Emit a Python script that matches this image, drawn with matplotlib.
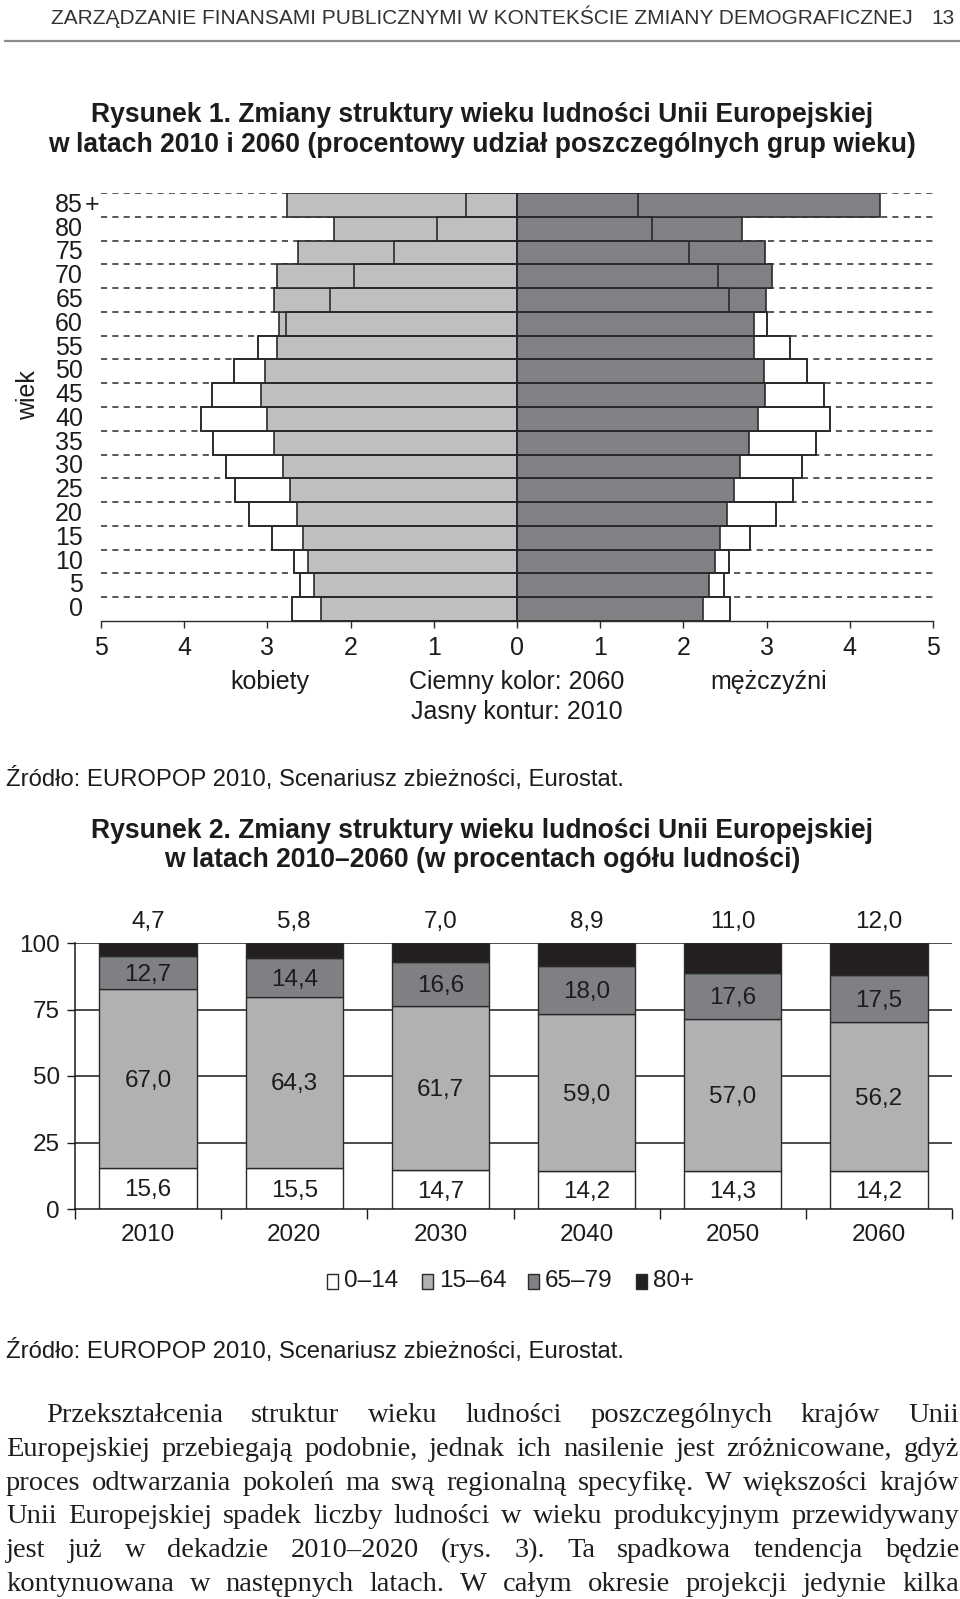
import matplotlib
matplotlib.use('Agg')
import matplotlib.pyplot as plt
from matplotlib.patches import Rectangle
from matplotlib.lines import Line2D
import numpy as np

W, H = 960, 1599

# Rysunek 1 - piramida wieku (udzial %, od najmlodszych do najstarszych)
age_labels = ['0', '5', '10', '15', '20', '25', '30', '35', '40',
              '45', '50', '55', '60', '65', '70', '75', '80', '85']
women_2010 = [2.70, 2.61, 2.68, 2.94, 3.22, 3.39, 3.50, 3.65, 3.80,
              3.67, 3.40, 3.11, 2.78, 2.25, 1.96, 1.48, 0.96, 0.61]
women_2060 = [2.36, 2.44, 2.51, 2.57, 2.65, 2.73, 2.81, 2.92, 3.01,
              3.08, 3.03, 2.89, 2.86, 2.92, 2.89, 2.63, 2.20, 2.77]
men_2010 = [2.56, 2.49, 2.55, 2.80, 3.11, 3.32, 3.42, 3.59, 3.76,
            3.69, 3.49, 3.28, 3.00, 2.55, 2.42, 2.07, 1.62, 1.46]
men_2060 = [2.24, 2.31, 2.38, 2.44, 2.53, 2.61, 2.68, 2.79, 2.90,
            2.98, 2.97, 2.85, 2.85, 2.99, 3.07, 2.98, 2.70, 4.36]
pyr_ticks = [-5, -4, -3, -2, -1, 0, 1, 2, 3, 4, 5]

# Rysunek 2 - struktura wieku 2010-2060
years = ['2010', '2020', '2030', '2040', '2050', '2060']
share_0_14 = [15.6, 15.5, 14.7, 14.2, 14.3, 14.2]
share_15_64 = [67.0, 64.3, 61.7, 59.0, 57.0, 56.2]
share_65_79 = [12.7, 14.4, 16.6, 18.0, 17.6, 17.5]
share_80 = [4.7, 5.8, 7.0, 8.9, 11.0, 12.0]
group_names = ['0–14', '15–64', '65–79', '80+']

body_lines = [
    'Przekształcenia struktur wieku ludności poszczególnych krajów Unii',
    'Europejskiej przebiegają podobnie, jednak ich nasilenie jest zróżnicowane, gdyż',
    'proces odtwarzania pokoleń ma swą regionalną specyfikę. W większości krajów',
    'Unii Europejskiej spadek liczby ludności w wieku produkcyjnym przewidywany',
    'jest już w dekadzie 2010–2020 (rys. 3). Ta spadkowa tendencja będzie',
    'kontynuowana w następnych latach. W całym okresie projekcji jedynie kilka',
]

plt.rcParams['font.family'] = ['Liberation Sans', 'DejaVu Sans']
TXT = '#1c1c1c'
FS = 17.5      # opisy wykresow
FS_P = 18      # piramida
FS_T = 19.1    # tytuly
FS_SRC = 17.2  # zrodlo


def fx(x):
    return x / W


def fy(y):
    return 1 - y / H


def rect(x0, y0, x1, y1):
    return [x0 / W, 1 - y1 / H, (x1 - x0) / W, (y1 - y0) / H]


fig = plt.figure(figsize=(W / 100, H / 100), dpi=100)
fig.patch.set_facecolor('white')

# naglowek strony
fig.text(fx(51), fy(24), 'ZARZĄDZANIE FINANSAMI PUBLICZNYMI W KONTEKŚCIE ZMIANY DEMOGRAFICZNEJ',
         fontsize=15, color='#333333', va='baseline', ha='left')
fig.text(fx(955), fy(24), '13', fontsize=15, color='#333333', va='baseline', ha='right')
fig.add_artist(Line2D([fx(5), 1.0], [fy(41), fy(41)], color='#8c8c8c', lw=1.6))

# tytul 1
fig.text(fx(482), fy(122), 'Rysunek 1. Zmiany struktury wieku ludności Unii Europejskiej',
         fontsize=FS_T, fontweight='bold', color=TXT, ha='center', va='baseline')
fig.text(fx(482), fy(152), 'w latach 2010 i 2060 (procentowy udział poszczególnych grup wieku)',
         fontsize=FS_T, fontweight='bold', color=TXT, ha='center', va='baseline')

# piramida
ax1 = fig.add_axes(rect(101, 193, 933, 621))
pos = np.arange(len(age_labels))
w10 = -np.array(women_2010)
w60 = -np.array(women_2060)

ax1.hlines(pos + 0.5, -5, 5, colors='#2a2a2a', linewidth=1.1,
           linestyles=(0, (4, 3.4)), zorder=1)
ax1.barh(pos, w10, height=1.0, color='white', edgecolor='#2a2a2a', linewidth=1.2, zorder=2)
ax1.barh(pos, men_2010, height=1.0, color='white', edgecolor='#2a2a2a', linewidth=1.2, zorder=2)
ax1.barh(pos, w60, height=1.0, color='#bebfc1', edgecolor='#2a2a2a', linewidth=1.2, zorder=3)
ax1.barh(pos, men_2060, height=1.0, color='#808184', edgecolor='#2a2a2a', linewidth=1.2, zorder=3)
ax1.barh(pos, w10, height=1.0, fill=False, edgecolor='#2a2a2a', linewidth=1.2, zorder=4)
ax1.barh(pos, men_2010, height=1.0, fill=False, edgecolor='#2a2a2a', linewidth=1.2, zorder=4)

ax1.set_xlim(-5, 5)
ax1.set_ylim(-0.5, len(age_labels) - 0.5)
ax1.set_xticks(pyr_ticks)
ax1.set_xticklabels([str(abs(t)) for t in pyr_ticks], fontsize=FS_P, color=TXT)
ax1.tick_params(axis='x', length=5, width=1, color='#2a2a2a', pad=5.5)
ax1.set_yticks([])
for s in ['top', 'right', 'left']:
    ax1.spines[s].set_visible(False)
ax1.spines['bottom'].set_linewidth(1)
ax1.spines['bottom'].set_color('#2a2a2a')

ytr = ax1.get_yaxis_transform()
for i, lab in enumerate(age_labels):
    ax1.text(-0.0216, i, lab, transform=ytr, ha='right', va='center',
             fontsize=FS_P, color=TXT, clip_on=False)
ax1.text(-0.0192, len(age_labels) - 1, '+', transform=ytr, ha='left', va='center',
         fontsize=FS_P, color=TXT, clip_on=False)

fig.text(fx(28), fy(395), 'wiek', rotation=90, ha='center', va='center', fontsize=FS_P, color=TXT)
fig.text(fx(270), fy(689), 'kobiety', ha='center', va='baseline', fontsize=FS_P, color=TXT)
fig.text(fx(769), fy(689), 'mężczyźni', ha='center', va='baseline', fontsize=FS_P, color=TXT)
fig.text(fx(517), fy(689), 'Ciemny kolor: 2060', ha='center', va='baseline', fontsize=FS_P, color=TXT)
fig.text(fx(517), fy(719), 'Jasny kontur: 2010', ha='center', va='baseline', fontsize=FS_P, color=TXT)

src = 'Źródło: EUROPOP 2010, Scenariusz zbieżności, Eurostat.'
fig.text(fx(6), fy(786), src, ha='left', va='baseline', fontsize=FS_SRC, color=TXT)

# tytul 2
fig.text(fx(482), fy(838), 'Rysunek 2. Zmiany struktury wieku ludności Unii Europejskiej',
         fontsize=FS_T, fontweight='bold', color=TXT, ha='center', va='baseline')
fig.text(fx(482), fy(867), 'w latach 2010–2060 (w procentach ogółu ludności)',
         fontsize=FS_T, fontweight='bold', color=TXT, ha='center', va='baseline')

# wykres slupkowy
ax2 = fig.add_axes(rect(75, 943, 952, 1209))
x = np.arange(len(years))
series = [share_0_14, share_15_64, share_65_79, share_80]
colors = ['white', '#b0b1b3', '#7f8083', '#231f20']
for v in [25, 50, 75, 100]:
    ax2.axhline(v, color='#1a1a1a', lw=1.1, zorder=1)
bottom = np.zeros(len(years))
for k, (vals, col) in enumerate(zip(series, colors)):
    vals = np.array(vals)
    ax2.bar(x, vals, width=0.667, bottom=bottom, color=col, edgecolor='#2a2a2a',
            linewidth=1.0, zorder=2)
    for xi, b, v in zip(x, bottom, vals):
        lab = f'{v:.1f}'.replace('.', ',')
        if k < 3:
            ax2.text(xi, b + v / 2 - 0.8, lab, ha='center', va='center',
                     fontsize=FS, color=TXT, zorder=3)
        else:
            ax2.text(xi, 108, lab, ha='center', va='center', fontsize=FS,
                     color=TXT, clip_on=False)
    bottom = bottom + vals

ax2.set_xlim(-0.5, len(years) - 0.5)
ax2.set_ylim(0, 100)
ax2.set_yticks([0, 25, 50, 75, 100])
ax2.set_yticklabels(['0', '25', '50', '75', '100'], fontsize=FS, color=TXT)
ax2.tick_params(axis='y', length=5.8, width=1, color='#1a1a1a', pad=5)
ax2.set_xticks(x)
ax2.set_xticklabels(years, fontsize=FS, color=TXT)
ax2.tick_params(axis='x', which='major', length=0, pad=10.5)
ax2.set_xticks(np.arange(len(years) + 1) - 0.5, minor=True)
ax2.tick_params(axis='x', which='minor', length=7, width=1, color='#1a1a1a')
for s in ['top', 'right']:
    ax2.spines[s].set_visible(False)
for s in ['left', 'bottom']:
    ax2.spines[s].set_linewidth(1.1)
    ax2.spines[s].set_color('#1a1a1a')

# legenda
leg_box_x = [327, 422, 528, 636]
for name, col, bx in zip(group_names, colors, leg_box_x):
    fig.add_artist(Rectangle((fx(bx), fy(1289)), 11 / W, 15 / H, transform=fig.transFigure,
                             facecolor=col, edgecolor='#2a2a2a', linewidth=1.0))
    fig.text(fx(bx + 17), fy(1281), name, ha='left', va='center', fontsize=FS, color=TXT)

fig.text(fx(6), fy(1358), src, ha='left', va='baseline', fontsize=FS_SRC, color=TXT)

# tekst glowny, wyjustowany
renderer = fig.canvas.get_renderer()
body_fs = 20.5
serif = ['Liberation Serif', 'DejaVu Serif']
baselines = [1422, 1456, 1490, 1523, 1557, 1591]
for k, (line, base) in enumerate(zip(body_lines, baselines)):
    words = line.split()
    x0 = 46 if k == 0 else 6
    x1 = 959
    widths = []
    for wd in words:
        t = fig.text(0, 0, wd, fontsize=body_fs, family=serif)
        widths.append(t.get_window_extent(renderer).width)
        t.remove()
    gap = (x1 - x0 - sum(widths)) / (len(words) - 1)
    xp = x0
    for wd, wdt in zip(words, widths):
        fig.text(fx(xp), fy(base), wd, fontsize=body_fs, family=serif,
                 color='#1e1e1e', ha='left', va='baseline')
        xp += wdt + gap

fig.savefig('out.png', dpi=100, facecolor='white')
